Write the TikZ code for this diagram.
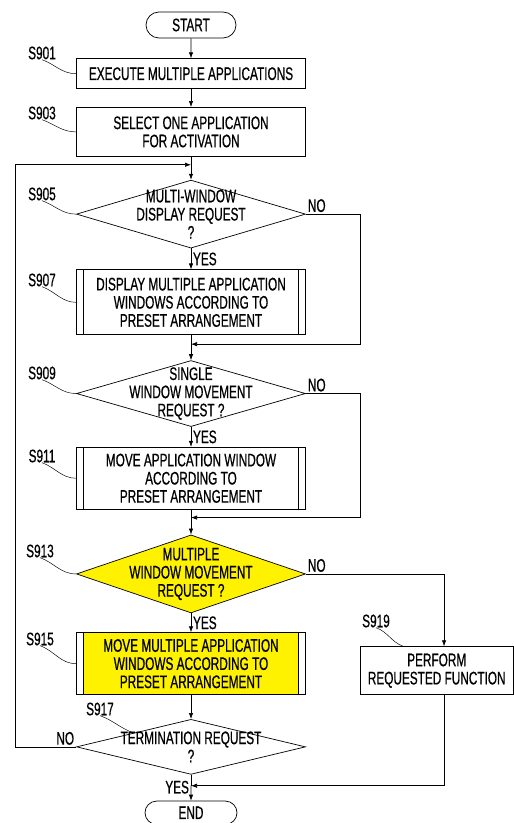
\documentclass[tikz,border=0pt]{standalone}
\usepackage{fontspec}
\newfontfamily\patfont{Liberation Sans}[FakeStretch=0.65,FakeBold=0.6]
\usetikzlibrary{arrows.meta,positioning,shapes.geometric,shapes.misc}
\definecolor{hlyellow}{HTML}{FFF200}

\begin{document}
\begin{tikzpicture}[
    x=0.03cm, y=-0.03cm,
    every node/.style={font={\patfont\fontsize{15.5}{15.5}\selectfont}},
    term/.style={draw, rounded rectangle, minimum width=2.7cm, minimum height=0.78cm,
                 inner sep=0pt, line width=0.6pt},
    box/.style={draw, rectangle, minimum width=6.87cm, align=center, inner sep=0pt,
                line width=0.6pt},
    procbox/.style={box, path picture={
        \fill[#1] ([xshift=0.21cm]path picture bounding box.south west)
            rectangle ([xshift=-0.21cm]path picture bounding box.north east);
        \draw[line width=0.5pt] ([xshift=0.21cm]path picture bounding box.south west)
            -- ([xshift=0.21cm]path picture bounding box.north west);
        \draw[line width=0.5pt] ([xshift=-0.21cm]path picture bounding box.south east)
            -- ([xshift=-0.21cm]path picture bounding box.north east);}},
    procbox/.default=white,
    decision/.style={draw, diamond, minimum width=6.87cm, inner sep=0pt, line width=0.6pt},
    dtext/.style={align=center, inner sep=0pt},
    steplbl/.style={inner sep=0pt},
    leader/.style={line width=0.4pt},
    yn/.style={inner sep=1.5pt},
    arr/.style={-{Latex[length=1.8mm,width=1.3mm]}, line width=0.5pt},
    line/.style={line width=0.5pt}
]
\useasboundingbox (0,0) rectangle (514,823);

% Main column
\node[term] (start) at (191,25) {START};
\node[box, minimum height=0.9cm, below=0.6cm of start] (s901) {EXECUTE MULTIPLE APPLICATIONS};
\node[box, minimum height=1.47cm, below=0.54cm of s901] (s903) {SELECT ONE APPLICATION\\FOR ACTIVATION};
\coordinate[below=0.24cm of s903] (j1);
\node[decision, minimum height=2.04cm, below=0.69cm of s903,
      label={[dtext]center:{MULTI-WINDOW\\DISPLAY REQUEST\\?}}] (s905) {};
\node[procbox, minimum height=1.95cm, below=0.63cm of s905] (s907)
     {DISPLAY MULTIPLE APPLICATION\\WINDOWS ACCORDING TO\\PRESET ARRANGEMENT};
\coordinate[below=0.27cm of s907] (j2);
\node[decision, minimum height=1.98cm, below=0.75cm of s907,
      label={[dtext]center:{SINGLE\\WINDOW MOVEMENT\\REQUEST ?}}] (s909) {};
\node[procbox, minimum height=1.86cm, below=0.6cm of s909] (s911)
     {MOVE APPLICATION WINDOW\\ACCORDING TO\\PRESET ARRANGEMENT};
\coordinate[below=0.24cm of s911] (j3);
\node[decision, fill=hlyellow, minimum height=2.34cm, below=0.75cm of s911,
      label={[dtext]center:{MULTIPLE\\WINDOW MOVEMENT\\REQUEST ?}}] (s913) {};
\node[procbox=hlyellow, minimum height=1.86cm, below=0.57cm of s913] (s915)
     {MOVE MULTIPLE APPLICATION\\WINDOWS ACCORDING TO\\PRESET ARRANGEMENT};
\node[decision, minimum height=1.65cm, below=0.72cm of s915,
      label={[dtext]center:{TERMINATION REQUEST\\?}}] (s917) {};
\coordinate[below=0.33cm of s917] (j4);
\node[term, minimum width=2.76cm, minimum height=0.7cm, below=0.78cm of s917] (end) {END};

% Side branch
\node[box, minimum width=4.59cm, minimum height=1.44cm, right=1.62cm of s915, yshift=-0.21cm] (s919)
     {PERFORM\\REQUESTED FUNCTION};

% Step labels
\node[steplbl] (l901) at (42,53) {S901};
\node[steplbl] (l903) at (42,113) {S903};
\node[steplbl] (l905) at (42,194) {S905};
\node[steplbl] (l907) at (42,280) {S907};
\node[steplbl] (l909) at (42,373) {S909};
\node[steplbl] (l911) at (42,456) {S911};
\node[steplbl] (l913) at (40,551) {S913};
\node[steplbl] (l915) at (40,639) {S915};
\node[steplbl] (l917) at (100,709) {S917};
\node[steplbl] (l919) at (376,621) {S919};

\draw[leader] (l901.south) to[out=-20,in=180] (s901.west);
\draw[leader] (l903.south) to[out=-20,in=180] (s903.west);
\draw[leader] (l905.south) to[out=-20,in=180] (s905.west);
\draw[leader] (l907.south) to[out=-20,in=180] (s907.west);
\draw[leader] (l909.south) to[out=-20,in=180] (s909.west);
\draw[leader] (l911.south) to[out=-20,in=180] (s911.west);
\draw[leader] (l913.south) to[out=-20,in=180] (s913.west);
\draw[leader] (l915.south) to[out=-20,in=180] (s915.west);
\draw[leader] (l917.south) to[out=-20,in=160] (s917.north west);
\draw[leader] (l919.south) to[out=-20,in=160] ([xshift=1.3cm]s919.north west);

% Flow
\draw[arr] (start) -- (s901);
\draw[arr] (s901) -- (s903);
\draw[line] (s903) -- (j1);
\draw[arr] (j1) -- (s905);
\draw[arr] (s905) -- (s907) node[midway, right, yn] {YES};
\draw[arr] (s905.east) node[above right, yn] {NO} -- ++(54,0) |- (j2);
\draw[line] (s907) -- (j2);
\draw[arr] (j2) -- (s909);
\draw[arr] (s909) -- (s911) node[midway, right, yn] {YES};
\draw[arr] (s909.east) node[above right, yn] {NO} -- ++(54,0) |- (j3);
\draw[line] (s911) -- (j3);
\draw[arr] (j3) -- (s913);
\draw[arr] (s913) -- (s915) node[midway, right, yn] {YES};
\draw[arr] (s913.east) node[above right, yn] {NO} -| ([xshift=0.22cm]s919.north);
\draw[arr] (s915) -- (s917);
\draw[line] (s917) -- (j4);
\draw[arr] (j4) -- (end) node[pos=0.1, left, yn] {YES};
\draw[arr] ([xshift=0.22cm]s919.south) |- (j4);
\draw[arr] (s917.west) node[above left, yn] {NO} -- ++(-61,0) |- (j1);

\end{tikzpicture}
\end{document}
